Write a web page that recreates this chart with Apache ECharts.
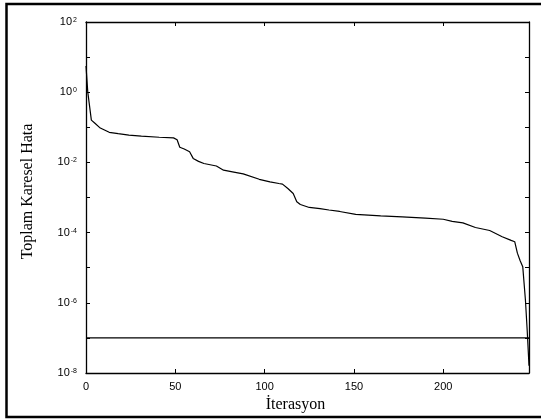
<!DOCTYPE html>
<html>
<head>
<meta charset="utf-8">
<script src="https://cdn.jsdelivr.net/npm/echarts@6/dist/echarts.min.js"></script>
<style>html,body{margin:0;padding:0;background:#fff}#c{width:541px;height:419px}</style>
</head>
<body>
<div id="c"></div>
<script>
const iterations = [0, 1, 3, 5, 8, 13, 18, 24, 31, 41, 49, 51, 52.5, 55, 58, 60, 63, 66, 73, 77, 82, 88, 97, 103, 108, 110, 113, 116, 118, 120, 125, 131, 136, 142, 151, 165, 177, 190, 200, 205, 211, 218, 226, 233, 238, 240, 241.5, 243, 244.5, 246, 247, 248];
const errorValues = [5.6, 1.0, 0.16, 0.13, 0.095, 0.072, 0.066, 0.060, 0.056, 0.052, 0.050, 0.044, 0.027, 0.024, 0.020, 0.013, 0.0107, 0.0093, 0.0079, 0.0060, 0.0054, 0.0047, 0.0033, 0.0028, 0.0025, 0.0024, 0.0018, 0.0013, 7.6e-4, 6.3e-4, 5.2e-4, 4.8e-4, 4.4e-4, 4.0e-4, 3.3e-4, 3.0e-4, 2.8e-4, 2.6e-4, 2.4e-4, 2.1e-4, 1.9e-4, 1.4e-4, 1.15e-4, 7.6e-5, 6.0e-5, 5.5e-5, 2.6e-5, 1.6e-5, 1.07e-5, 1.2e-6, 1.6e-7, 1.6e-8];
const goalIterations = [0, 248];
const goalValues = [1e-7, 1e-7];
const xTicks = [0, 50, 100, 150, 200];
const yLabelExponents = [2, 0, -2, -4, -6, -8];

const chart = echarts.init(document.getElementById('c'), null, {renderer: 'canvas'});
const sans = 'Liberation Sans';
const serif = 'Liberation Serif';
const axisLine = {show: true, onZero: false, lineStyle: {color: '#000', width: 1.3}};
const tick = {show: true, inside: true, length: 4, lineStyle: {color: '#000', width: 1}};

chart.setOption({
  animation: false,
  backgroundColor: '#fff',
  grid: {left: 86, top: 22, right: 12, bottom: 46, containLabel: false},
  graphic: [{
    type: 'rect', silent: true, z: 100,
    shape: {x: 6.5, y: 4, width: 600, height: 413},
    style: {fill: 'none', stroke: '#000', lineWidth: 2.5}
  }],
  xAxis: [{
    type: 'value', min: 0, max: 248, interval: 50,
    position: 'bottom',
    name: 'İterasyon', nameLocation: 'middle', nameGap: 20,
    nameTextStyle: {fontFamily: serif, fontSize: 16, color: '#000', padding: [0, 24, 0, 0]},
    axisLine: axisLine, axisTick: tick, splitLine: {show: false},
    axisLabel: {
      fontFamily: sans, fontSize: 11, color: '#000', margin: 8,
      formatter: v => xTicks.includes(v) ? String(v) : ''
    }
  }, {
    type: 'value', min: 0, max: 248, interval: 50,
    position: 'top',
    axisLine: axisLine, axisTick: tick, splitLine: {show: false},
    axisLabel: {show: false}
  }],
  yAxis: [{
    type: 'log', logBase: 10, min: 1e-8, max: 1e2, interval: 1,
    position: 'left',
    name: 'Toplam Karesel Hata', nameLocation: 'middle', nameGap: 50,
    nameTextStyle: {fontFamily: serif, fontSize: 16, color: '#000', padding: [0, 0, 0, 12]},
    axisLine: axisLine, axisTick: tick, splitLine: {show: false},
    axisLabel: {
      margin: 9,
      formatter: v => {
        const e = Math.round(Math.log10(v));
        if (!yLabelExponents.includes(e)) return '';
        return '{b|10}{s|' + e + '}';
      },
      rich: {
        b: {fontFamily: sans, fontSize: 11, lineHeight: 11, color: '#000', verticalAlign: 'middle'},
        s: {fontFamily: sans, fontSize: 7, lineHeight: 8, color: '#000', verticalAlign: 'top', padding: [0, 0, 16, 1]}
      }
    }
  }, {
    type: 'log', logBase: 10, min: 1e-8, max: 1e2, interval: 1,
    position: 'right',
    axisLine: axisLine, axisTick: tick, splitLine: {show: false},
    axisLabel: {show: false}
  }],
  series: [{
    type: 'line', showSymbol: false, symbol: 'none',
    data: iterations.map((x, i) => [x, errorValues[i]]),
    lineStyle: {color: '#000', width: 1.2}
  }, {
    type: 'line', showSymbol: false, symbol: 'none',
    data: goalIterations.map((x, i) => [x, goalValues[i]]),
    lineStyle: {color: '#000', width: 1.2}
  }]
});
</script>
</body>
</html>
